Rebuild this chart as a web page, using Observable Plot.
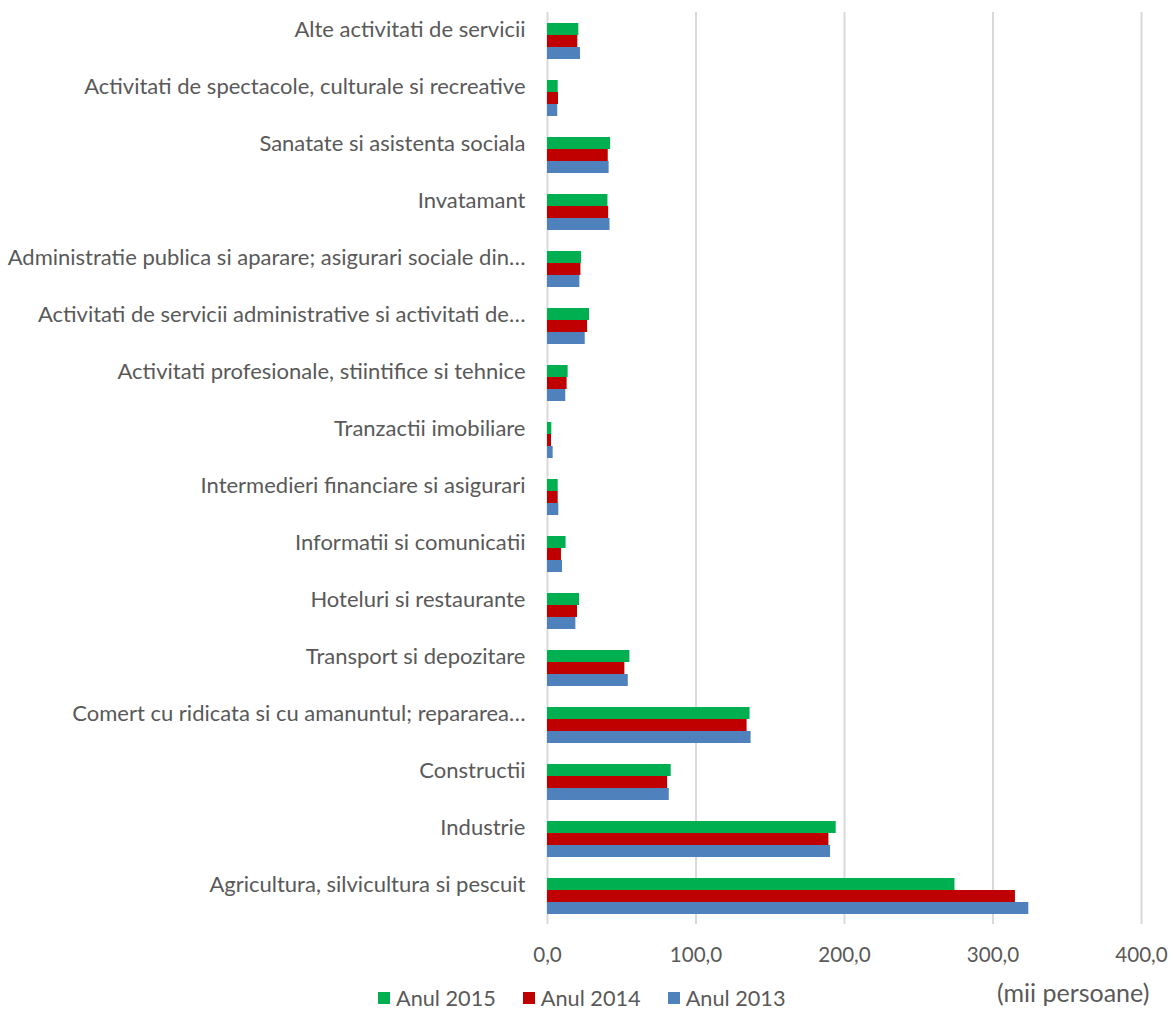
<!DOCTYPE html>
<html>
<head>
<meta charset="utf-8">
<script src="https://cdn.jsdelivr.net/npm/d3@7"></script>
<script src="https://cdn.jsdelivr.net/npm/@observablehq/plot@0.6"></script>
<style>
  html, body { margin: 0; padding: 0; background: #fff; }
  #wrap { position: relative; width: 1170px; height: 1010px; font-family: Lato, "Open Sans", sans-serif; color: #595959; }
  #legend { position: absolute; left: 378px; top: 985px; display: flex; gap: 27px; font-size: 21.7px; }
  #legend span.item { display: flex; align-items: center; }
  #legend i { display: inline-block; width: 12px; height: 12px; margin-right: 6px; }
  #unit { position: absolute; left: 997px; top: 977px; font-size: 25px; }
</style>
</head>
<body>
<div id="wrap">
  <div id="chart"></div>
  <div id="legend"></div>
  <div id="unit">(mii persoane)</div>
</div>
<script>
const categories = [
  "Alte activitati de servicii",
  "Activitati de spectacole, culturale si recreative",
  "Sanatate si asistenta sociala",
  "Invatamant",
  "Administratie publica si aparare; asigurari sociale din…",
  "Activitati de servicii administrative si activitati de…",
  "Activitati profesionale, stiintifice si tehnice",
  "Tranzactii imobiliare",
  "Intermedieri financiare si asigurari",
  "Informatii si comunicatii",
  "Hoteluri si restaurante",
  "Transport si depozitare",
  "Comert cu ridicata si cu amanuntul; repararea…",
  "Constructii",
  "Industrie",
  "Agricultura, silvicultura si pescuit"
];
const values2015 = [21.1, 7.2, 42.5, 40.7, 22.9, 28.3, 13.9, 2.9, 7.2, 12.5, 21.6, 55.5, 136.4, 83.3, 194.4, 274.4];
const values2014 = [20.4, 7.4, 40.9, 41.2, 22.5, 27.0, 13.2, 2.7, 7.2, 9.4, 20.2, 52.1, 134.4, 80.9, 189.5, 315.1];
const values2013 = [22.2, 6.9, 41.5, 42.1, 21.8, 25.4, 12.3, 3.8, 7.6, 10.1, 19.1, 54.4, 137.1, 82.0, 190.6, 324.1];
const seriesNames = ["Anul 2015", "Anul 2014", "Anul 2013"];
const seriesColors = ["#00B050", "#C00000", "#4F81BD"];
const xTicks = [0, 100, 200, 300, 400];

const rows = (vals) => categories.map((c, i) => ({category: c, value: vals[i]}));
const d2015 = rows(values2015), d2014 = rows(values2014), d2013 = rows(values2013);

const fmt = (d) => d3.format(".1f")(d).replace(".", ",");

const chart = Plot.plot({
  width: 1170,
  height: 1010,
  marginLeft: 547,
  marginRight: 29,
  marginTop: 12,
  marginBottom: 86,
  style: {fontFamily: "Lato, 'Open Sans', sans-serif", fontSize: "21px", color: "#595959", background: "#fff"},
  x: {domain: [0, 400]},
  y: {domain: categories, paddingInner: 0.37, paddingOuter: 0.185},
  marks: [
    Plot.ruleX(xTicks, {stroke: "#d9d9d9", strokeWidth: 2}),
    Plot.barX(d2015, {x: "value", y: "category", fill: seriesColors[0], insetBottom: 24}),
    Plot.barX(d2014, {x: "value", y: "category", fill: seriesColors[1], insetTop: 12, insetBottom: 12}),
    Plot.barX(d2013, {x: "value", y: "category", fill: seriesColors[2], insetTop: 24}),
    Plot.axisY({tickSize: 0, tickPadding: 22, label: null, fill: "#595959", fontSize: 22, dy: -12}),
    Plot.axisX({ticks: xTicks, tickSize: 0, tickPadding: 23, tickFormat: fmt, label: null, fill: "#595959", fontSize: 20.6})
  ]
});
document.getElementById("chart").appendChild(chart);

const legend = document.getElementById("legend");
seriesNames.forEach((n, i) => {
  const s = document.createElement("span");
  s.className = "item";
  s.innerHTML = `<i style="background:${seriesColors[i]}"></i>${n}`;
  legend.appendChild(s);
});
</script>
</body>
</html>
